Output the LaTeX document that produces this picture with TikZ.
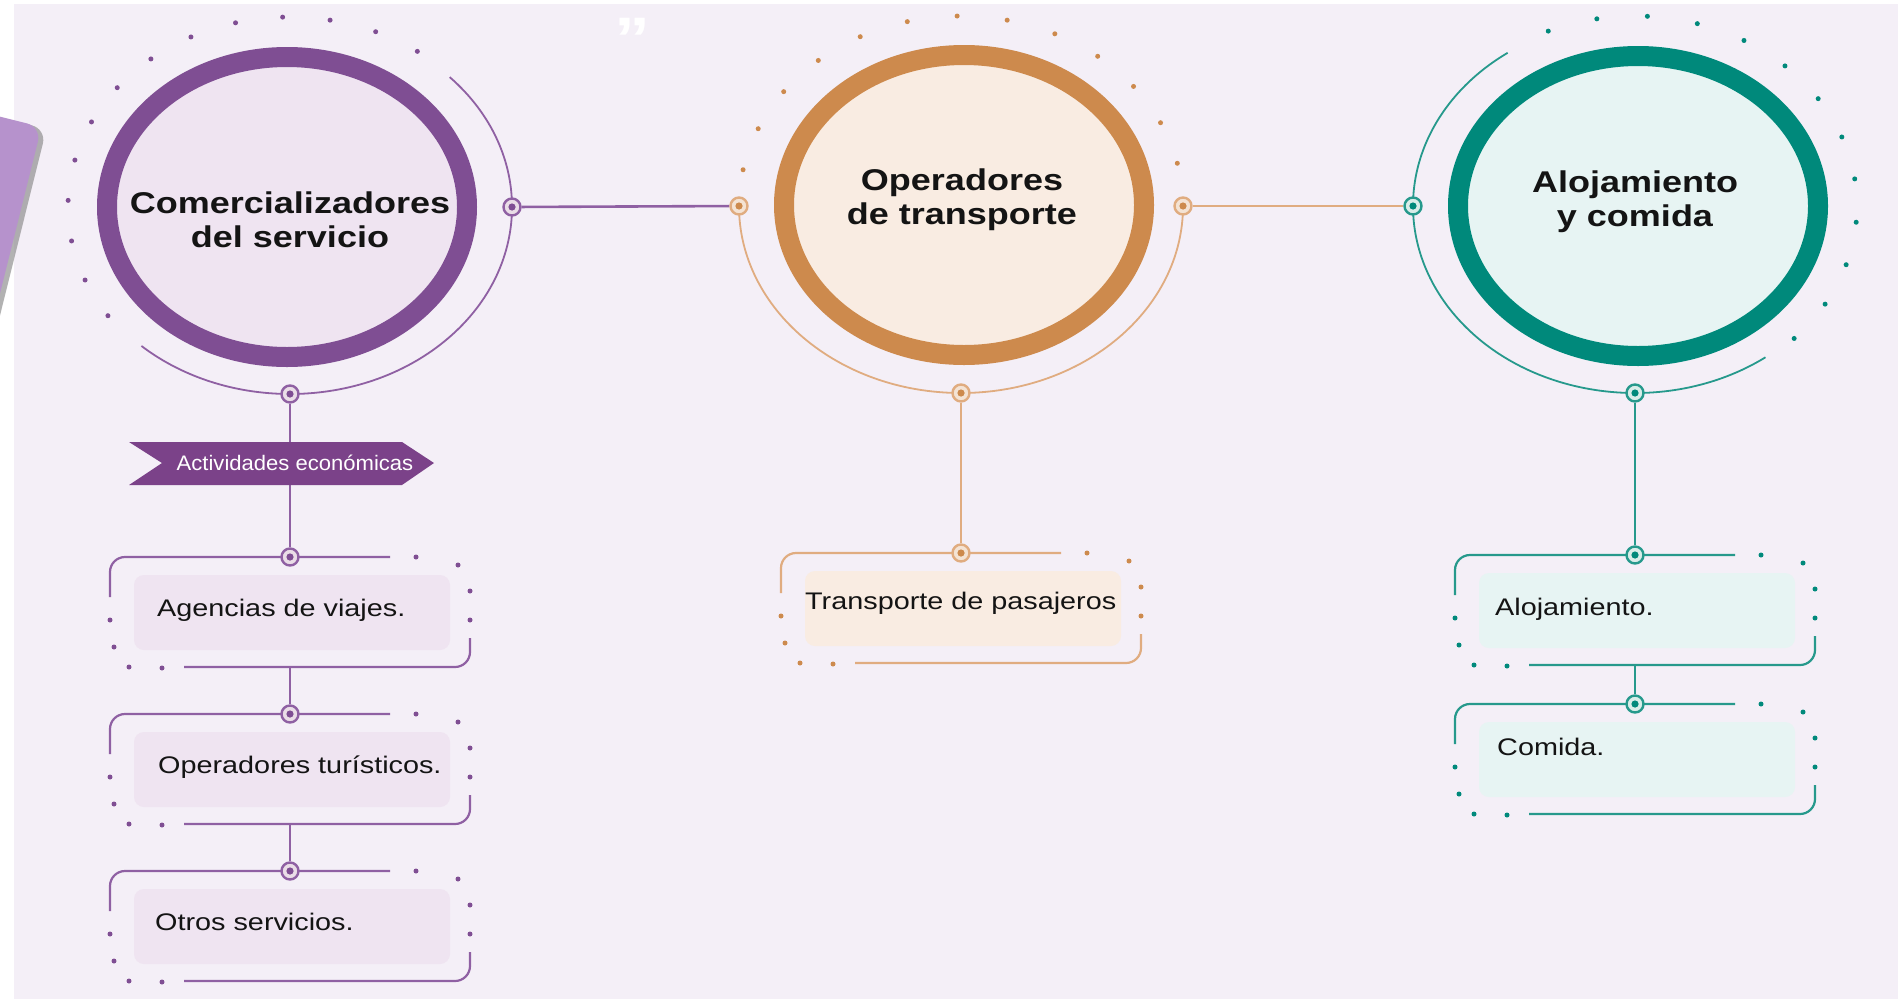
\documentclass[tikz,border=0pt]{standalone}
\usepackage{fontspec}
\setmainfont{Liberation Sans}[FakeStretch=1.2]
\newfontfamily\bannerfont{Liberation Sans}[FakeStretch=1.05]
\usetikzlibrary{shapes.geometric}
\usetikzlibrary{shadows}
\pgfdeclarelayer{background}
\pgfsetlayers{background,main}

\definecolor{bgpaper}{RGB}{244,239,247}
\definecolor{lilac}{RGB}{182,146,204}
\definecolor{banner}{RGB}{123,66,137}
\definecolor{plum}{RGB}{127,78,147}
\definecolor{plumline}{RGB}{143,96,163}
\definecolor{plumfill}{RGB}{239,228,241}
\definecolor{plumpin}{RGB}{234,221,231}
\definecolor{ochre}{RGB}{205,138,77}
\definecolor{ochreline}{RGB}{224,172,128}
\definecolor{ochrefill}{RGB}{249,236,226}
\definecolor{ochrepin}{RGB}{244,227,212}
\definecolor{sea}{RGB}{0,137,123}
\definecolor{sealine}{RGB}{38,153,140}
\definecolor{seafill}{RGB}{231,244,243}
\definecolor{seapin}{RGB}{217,237,233}

\tikzstyle{ring}=[ellipse,minimum width=360,minimum height=300,line width=20pt,inner sep=0pt]
\tikzstyle{headtext}=[font=\bfseries\fontsize{30}{34}\selectfont,align=center,text=black!92]
\tikzstyle{itemtext}=[font=\fontsize{24}{28}\selectfont,anchor=base west,inner sep=0pt,text=black!92]
\tikzstyle{link}=[line width=2.6pt]
\tikzstyle{frame}=[line width=2.2pt]
\tikzstyle{thinarc}=[line width=1.8pt]
\tikzset{knot/.style={circle,draw=#1line,fill=#1pin,minimum size=17pt,inner sep=0pt,line width=2.4pt,
    path picture={\fill[#1] (path picture bounding box.center) circle (3.6pt);}}}

% bracket frame with a soft box and a top knot
\newcommand{\itembox}[4]{%
  \fill[#4fill,rounded corners=10pt] (#2+24,#3+18) rectangle (#2+340,#3+93);
  \draw[frame,#4line,rounded corners=15pt] (#2,#3+40) -- (#2,#3) -- (#2+280,#3);
  \draw[frame,#4line,rounded corners=15pt] (#2+360,#3+81) -- (#2+360,#3+110) -- (#2+74,#3+110);
  \foreach \dx/\dy in {306/0,348/8,360/34,360/63,52/111,19/110,4/90,0/63}
    \fill[#4] (#2+\dx,#3+\dy) circle (2.5pt);
  \coordinate (#1-b) at (#2+180,#3+110);
  \node[knot=#4] (#1) at (#2+180,#3) {};
}

\begin{document}
\begin{tikzpicture}[x=1pt,y=-1pt]
    \useasboundingbox (0,0) rectangle (1898,1002);
    \begin{pgfonlayer}{background}
      \fill[white] (0,0) rectangle (1898,1002);
      \fill[bgpaper] (14,4) rectangle (1898,999);
    \end{pgfonlayer}

    % cut tab on the left edge
    \begin{scope}[shift={(41.5,127)},rotate=-14]
      \fill[lilac,rounded corners=15pt,drop shadow={shadow xshift=5pt,shadow yshift=-2pt,opacity=.6}] (-300,0) rectangle (0,500);
    \end{scope}
    \node[text=white,font=\bfseries\fontsize{60}{60}\selectfont,anchor=base] (quote) at (632,59) {”};

    % thin arcs and dotted arcs
    \draw[thinarc,plumline] (290,207) ++(-44:222 and 187) arc[start angle=-44,end angle=132,x radius=222,y radius=187];
    \foreach \a in {0,...,13} \fill[plum] (290,207) ++(-55-\a*12.3:222 and 190) circle (2.5pt);
    \draw[thinarc,ochreline] (961,206) ++(0:222 and 187) arc[start angle=0,end angle=180,x radius=222,y radius=187];
    \foreach \a in {0,...,12} \fill[ochre] (961,206) ++(-169+\a*13:222 and 190) circle (2.5pt);
    \draw[thinarc,sealine] (1635,206) ++(54:222 and 187) arc[start angle=54,end angle=235,x radius=222,y radius=187];
    \foreach \a in {0,...,12} \fill[sea] (1635,206) ++(-113+\a*13.1:222 and 190) circle (2.5pt);

    % main circles
    \node[ring,draw=plum,fill=plumfill] (com) at (287,207) {};
    \node[ring,draw=ochre,fill=ochrefill] (ope) at (964,205) {};
    \node[ring,draw=sea,fill=seafill] (alo) at (1638,206) {};
    \node[headtext] (comtxt) at (290,220) {Comercializadores\\del servicio};
    \node[headtext] (opetxt) at (962,200) {Operadores\\de transporte};
    \node[headtext] (alotxt) at (1635,202) {Alojamiento\\y comida};

    \path (290,207) ++(0:222 and 187) node[knot=plum] (comr) {};
    \path (290,207) ++(90:222 and 187) node[knot=plum] (comb) {};
    \path (961,206) ++(180:222 and 187) node[knot=ochre] (opel) {};
    \path (961,206) ++(0:222 and 187) node[knot=ochre] (oper) {};
    \path (961,206) ++(90:222 and 187) node[knot=ochre] (opeb) {};
    \path (1635,206) ++(180:222 and 187) node[knot=sea] (alol) {};
    \path (1635,206) ++(90:222 and 187) node[knot=sea] (alob) {};

    % boxes
    \itembox{agen}{110}{557}{plum}
    \node[itemtext] (agentxt) at (157,616) {Agencias de viajes.};
    \itembox{opet}{110}{714}{plum}
    \node[itemtext] (opettxt) at (158,773) {Operadores turísticos.};
    \itembox{otros}{110}{871}{plum}
    \node[itemtext] (otrostxt) at (155,930) {Otros servicios.};
    \itembox{trans}{781}{553}{ochre}
    \node[itemtext] (transtxt) at (805,609) {Transporte de pasajeros};
    \itembox{aloj}{1455}{555}{sea}
    \node[itemtext] (alojtxt) at (1495,615) {Alojamiento.};
    \itembox{comi}{1455}{704}{sea}
    \node[itemtext] (comitxt) at (1497,755) {Comida.};

    % banner
    \fill[banner] (129,442) -- (402,442) -- (434,463) -- (402,485) -- (129,485) -- (162,463) -- cycle;
    \node[text=white,font=\bannerfont\fontsize{21}{24}\selectfont] (activ) at (295,463) {Actividades económicas};

    \begin{pgfonlayer}{background}
      \draw[link,plumline] (comr) -- (opel);
      \draw[link,ochreline] (oper) -- (alol);
      \draw[link,plumline] (comb) -- (agen);
      \draw[link,plumline] (agen-b) -- (opet);
      \draw[link,plumline] (opet-b) -- (otros);
      \draw[link,ochreline] (opeb) -- (trans);
      \draw[link,sealine] (alob) -- (aloj);
      \draw[link,sealine] (aloj-b) -- (comi);
    \end{pgfonlayer}
\end{tikzpicture}
\end{document}
